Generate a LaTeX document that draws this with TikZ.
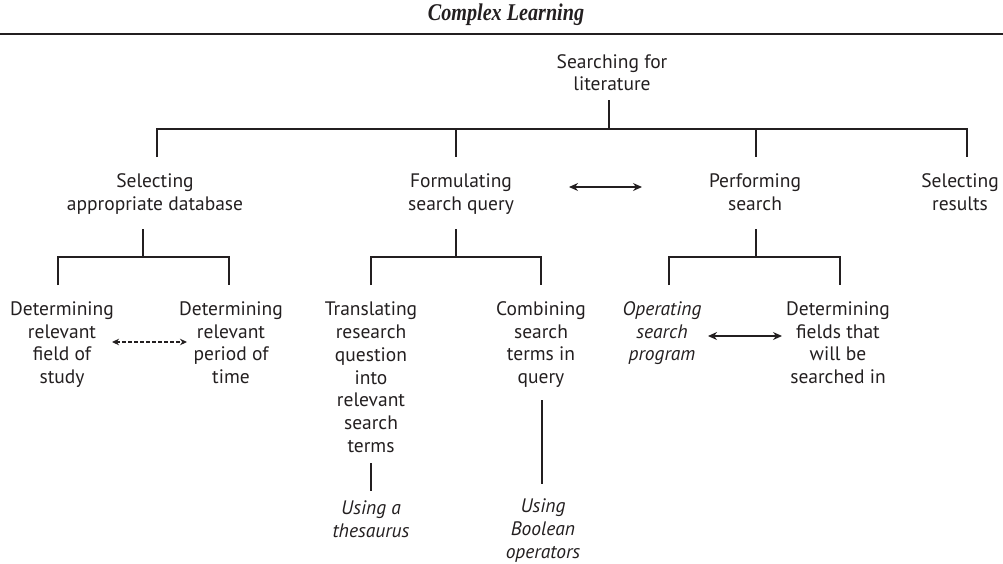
\documentclass[tikz,border=0pt]{standalone}
\usepackage{fontspec}
\setmainfont{PT Sans}
\newfontfamily\titlefont[FakeStretch=0.84]{Liberation Serif}
\usetikzlibrary{arrows.meta}
\definecolor{ink}{HTML}{231F20}
\newcommand{\ml}[1]{\strut#1\strut}
\tikzset{
  lbl/.style={inner sep=0pt, align=center, text=ink, font=\fontsize{19.5}{22.7}\selectfont},
  ital/.style={lbl, font=\fontsize{19.5}{22.7}\selectfont\itshape},
  conn/.style={draw=ink, line width=1.3pt},
  biarrow/.style={conn, {Stealth[length=9pt,width=8pt]}-{Stealth[length=9pt,width=8pt]}},
  dasharrow/.style={draw=ink, line width=1.1pt, dash pattern=on 3.5pt off 2.5pt, {Stealth[length=7pt,width=6.5pt]}-{Stealth[length=7pt,width=6.5pt]}}
}
\begin{document}
\begin{tikzpicture}[x=1pt,y=-1pt]
\useasboundingbox (0,0) rectangle (1003,563);
% title
\node[text=ink, inner sep=0pt, font=\titlefont\bfseries\itshape\fontsize{24}{27}\selectfont] (title) at (506,15) {Complex Learning};
\coordinate (ruleL) at (0,34);
\coordinate (ruleR) at (1003,34);
\draw[draw=ink, line width=1.6pt] (ruleL) -- (ruleR);

% root
\node[lbl] (root) at (612,75) {\ml{Searching for\\literature}};
% level 1
\node[lbl] (s1) at (155,194.5) {\ml{Selecting\\appropriate database}};
\node[lbl] (s2) at (461,194.5) {\ml{Formulating\\search query}};
\node[lbl] (s3) at (755,194.5) {\ml{Performing\\search}};
\node[lbl] (s4) at (960,194.5) {\ml{Selecting\\results}};
% level 2
\node[lbl] (d1) at (62,345) {\ml{Determining\\relevant\\field of\\study}};
\node[lbl] (d2) at (231,345) {\ml{Determining\\relevant\\period of\\time}};
\node[lbl] (t1) at (371,379.5) {\ml{Translating\\research\\question\\into\\relevant\\search\\terms}};
\node[lbl] (t2) at (541,345) {\ml{Combining\\search\\terms in\\query}};
\node[ital] (p1) at (662,333.5) {\ml{Operating\\search\\program}};
\node[lbl] (p2) at (838,345) {\ml{Determining\\fields that\\will be\\searched in}};
% level 3
\node[ital] (u1) at (371,521.5) {\ml{Using a\\thesaurus}};
\node[ital] (u2) at (543,529.5) {\strut Using\\Boolean\\operators};

% junction coordinates
\coordinate (r0) at (609,100);
\coordinate (r1) at (609,129);
\coordinate (b1) at (157,129);
\coordinate (b1e) at (157,157);
\coordinate (b2) at (456,129);
\coordinate (b2e) at (456,157);
\coordinate (b3) at (756,129);
\coordinate (b3e) at (756,157);
\coordinate (b4) at (967,129);
\coordinate (b4e) at (967,157);

\draw[conn] (r0) -- (r1);
\draw[conn] (b1e) -- (b1) -- (b4) -- (b4e);
\draw[conn] (b2) -- (b2e);
\draw[conn] (b3) -- (b3e);

% subtree s1
\coordinate (a0) at (143,229);
\coordinate (a1) at (143,257);
\coordinate (aL) at (58,257);
\coordinate (aLe) at (58,285);
\coordinate (aR) at (229,257);
\coordinate (aRe) at (229,285);
\draw[conn] (a0) -- (a1);
\draw[conn] (aLe) -- (aL) -- (aR) -- (aRe);
% subtree s2
\coordinate (c0) at (456,229);
\coordinate (c1) at (456,257);
\coordinate (cL) at (371,257);
\coordinate (cLe) at (371,285);
\coordinate (cR) at (541,257);
\coordinate (cRe) at (541,285);
\draw[conn] (c0) -- (c1);
\draw[conn] (cLe) -- (cL) -- (cR) -- (cRe);
% subtree s3
\coordinate (e0) at (756,229);
\coordinate (e1) at (756,257);
\coordinate (eL) at (669,257);
\coordinate (eLe) at (669,285);
\coordinate (eR) at (840,257);
\coordinate (eRe) at (840,285);
\draw[conn] (e0) -- (e1);
\draw[conn] (eLe) -- (eL) -- (eR) -- (eRe);

% level 3 stems
\coordinate (f0) at (371,463);
\coordinate (f1) at (371,491);
\draw[conn] (f0) -- (f1);
\coordinate (g0) at (542,400);
\coordinate (g1) at (542,484);
\draw[conn] (g0) -- (g1);

% arrows
\coordinate (h0) at (569,187);
\coordinate (h1) at (642,187);
\draw[biarrow] (h0) -- (h1);
\coordinate (k0) at (112,342);
\coordinate (k1) at (187,342);
\draw[dasharrow] (k0) -- (k1);
\coordinate (m0) at (708,336);
\coordinate (m1) at (782,336);
\draw[biarrow] (m0) -- (m1);
\end{tikzpicture}
\end{document}
